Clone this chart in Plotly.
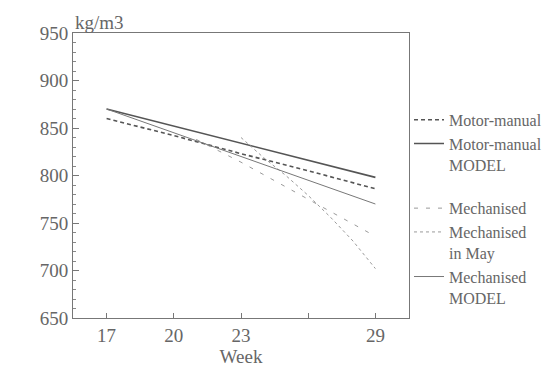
import plotly.graph_objects as go

# Data
weeks_mm = [17, 20, 23, 26, 29]
motor_manual = [860, 842, 823, 805, 786]
weeks_model = [17, 29]
motor_manual_model = [870, 798]
weeks_mech = [21, 23, 25, 27, 29]
mechanised = [838, 814, 788, 762, 736]
weeks_may = [23, 24, 25, 26, 27, 28, 29]
mechanised_may = [840, 819, 800, 779, 756, 731, 702]
mechanised_model = [870, 770]

x_tickvals = [17, 20, 23, 26, 29]
x_ticktext = ["17", "20", "23", "", "29"]

DARK = "#555555"
LIGHT = "#9a9a9a"
FONT = "'Liberation Serif', 'DejaVu Serif', serif"

fig = go.Figure()
fig.add_trace(go.Scatter(x=weeks_mm, y=motor_manual, mode="lines", name="Motor-manual",
                         legendgroup="a",
                         line=dict(color=DARK, width=1.6, dash="4px,3px")))
fig.add_trace(go.Scatter(x=weeks_model, y=motor_manual_model, mode="lines", name="Motor-manual<br>MODEL",
                         legendgroup="a",
                         line=dict(color=DARK, width=1.6)))
fig.add_trace(go.Scatter(x=weeks_mech, y=mechanised, mode="lines", name="Mechanised",
                         legendgroup="b",
                         line=dict(color=LIGHT, width=1, dash="4px,8px")))
fig.add_trace(go.Scatter(x=weeks_may, y=mechanised_may, mode="lines", name="Mechanised<br>in May",
                         legendgroup="b",
                         line=dict(color=LIGHT, width=1, dash="3px,3px")))
fig.add_trace(go.Scatter(x=weeks_model, y=mechanised_model, mode="lines", name="Mechanised<br>MODEL",
                         legendgroup="b",
                         line=dict(color="#777777", width=1)))

fig.update_layout(
    width=543, height=367,
    margin=dict(l=73, r=134, t=33, b=49, autoexpand=False),
    plot_bgcolor="white", paper_bgcolor="white",
    font=dict(family=FONT, color="#666666", size=19),
    showlegend=True,
    legend=dict(x=1.0, xanchor="left", y=0.755, yanchor="top",
                font=dict(family=FONT, size=16, color="#666666"),
                valign="top", bgcolor="rgba(0,0,0,0)", itemwidth=30,
                tracegroupgap=20, groupclick="toggleitem"),
    xaxis=dict(range=[15.5, 30.5], tickvals=x_tickvals, ticktext=x_ticktext,
               ticks="inside", ticklen=5, tickcolor="#777777",
               showline=True, linecolor="#777777", linewidth=1, mirror=True,
               showgrid=False, zeroline=False,
               title=dict(text="Week", font=dict(family=FONT, size=19, color="#666666"), standoff=9)),
    yaxis=dict(range=[650, 950], dtick=50, ticks="inside", ticklen=6, tickcolor="#777777",
               showline=True, linecolor="#777777", linewidth=1, mirror=True,
               showgrid=False, zeroline=False,
               minor=dict(dtick=10, ticks="inside", ticklen=3, tickcolor="#888888")),
    annotations=[dict(text="kg/m3", xref="paper", yref="paper", x=0, y=1,
                      xanchor="left", yanchor="bottom", showarrow=False, yshift=-2,
                      font=dict(family=FONT, size=19, color="#666666"))],
)

fig.write_html("out.html")
